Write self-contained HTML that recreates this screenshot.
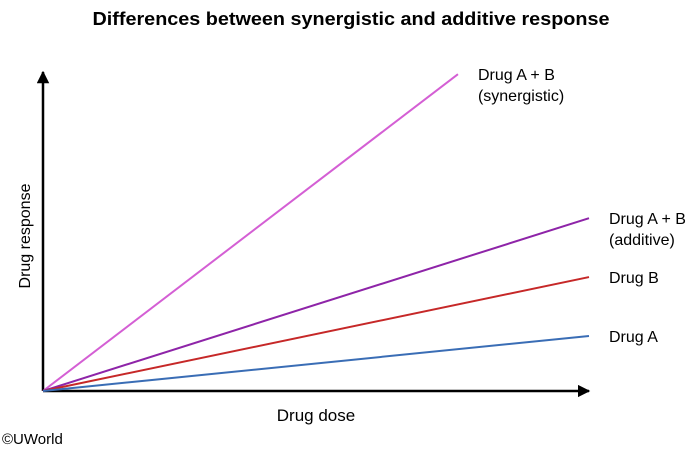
<!DOCTYPE html>
<html><head><meta charset="utf-8"><style>
html,body{margin:0;padding:0;background:#fff;}
svg{display:block;font-family:"Liberation Sans",Arial,sans-serif;}
</style></head><body>
<svg id="chart" width="700" height="451" viewBox="0 0 700 451">
<defs>
<marker id="arr" viewBox="0 0 10 10" refX="9" refY="5" markerWidth="5" markerHeight="5" orient="auto"><path d="M0,0 L10,5 L0,10 z" fill="#000"/></marker>
</defs>
<text x="351" y="25" text-anchor="middle" font-size="18.5" font-weight="bold" textLength="517" lengthAdjust="spacingAndGlyphs">Differences between synergistic and additive response</text>
<line x1="43" y1="391" x2="43" y2="72" stroke="#000" stroke-width="2.5" marker-end="url(#arr)"/>
<line x1="43" y1="391" x2="589" y2="391" stroke="#000" stroke-width="2.5" marker-end="url(#arr)"/>
<text x="316" y="421" text-anchor="middle" font-size="17">Drug dose</text>
<text transform="translate(30,236) rotate(-90)" text-anchor="middle" font-size="16">Drug response</text>
<text x="2" y="444" font-size="15">©UWorld</text>
<g id="lines"></g>
</svg>
<script>
const seriesNames = ["Drug A + B (synergistic)", "Drug A + B (additive)", "Drug B", "Drug A"];
const endDose = [7.6, 10, 10, 10];
const endResponse = [99, 54, 35.6, 17.2];
const colors = ["#d45fd4", "#8e24a8", "#c62828", "#3a6db5"];
const labelLines = [["Drug A + B","(synergistic)"],["Drug A + B","(additive)"],["Drug B"],["Drug A"]];
const xS = d => 43 + d * 54.6;
const yS = r => 391 - r * 3.2;
const g = document.getElementById('lines');
const ns = "http://www.w3.org/2000/svg";
seriesNames.forEach((n, i) => {
  const l = document.createElementNS(ns, 'line');
  l.setAttribute('x1', xS(0)); l.setAttribute('y1', yS(0));
  l.setAttribute('x2', xS(endDose[i])); l.setAttribute('y2', yS(endResponse[i]));
  l.setAttribute('stroke', colors[i]); l.setAttribute('stroke-width', '2');
  
  
  g.appendChild(l);
  const t = document.createElementNS(ns, 'text');
  t.setAttribute('x', xS(endDose[i]) + 20);
  t.setAttribute('y', yS(endResponse[i]) + 6);
  t.setAttribute('font-size', '16');
  
  
  labelLines[i].forEach((s, k) => {
    const ts = document.createElementNS(ns, 'tspan');
    ts.setAttribute('x', xS(endDose[i]) + 20);
    if (k > 0) ts.setAttribute('dy', '21');
    ts.textContent = s;
    t.appendChild(ts);
  });
  g.appendChild(t);
});
</script>
</body></html>
